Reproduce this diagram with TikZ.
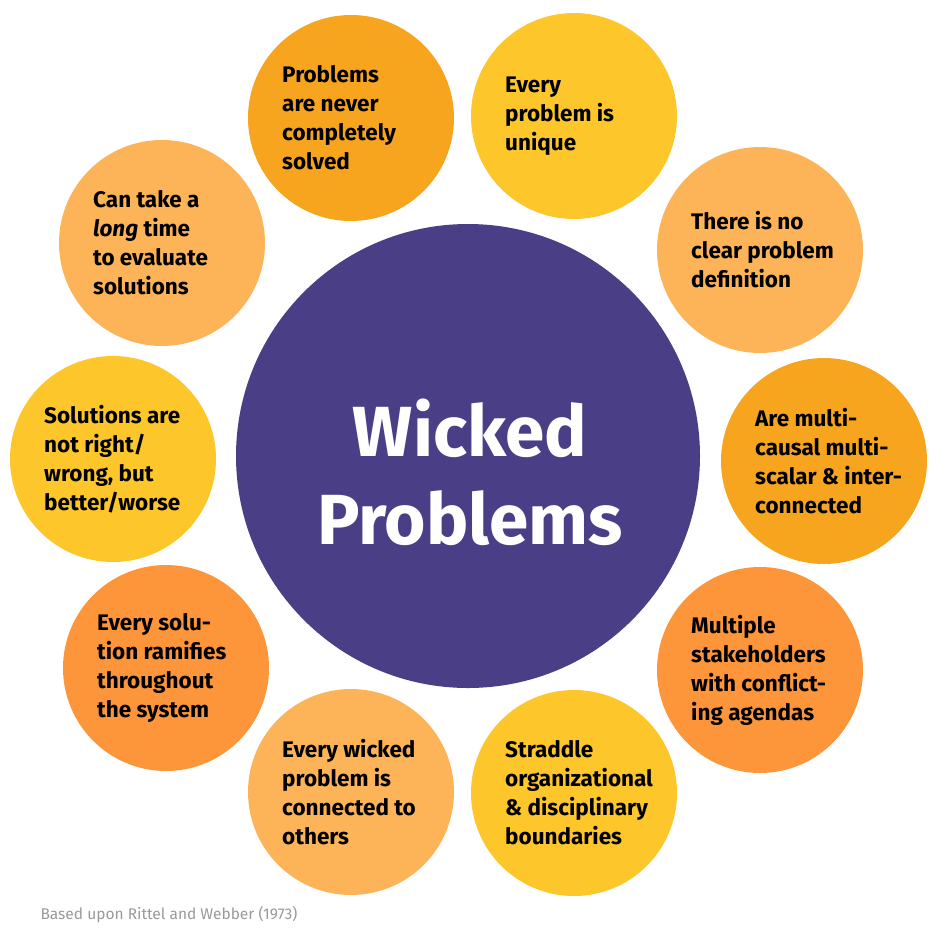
\documentclass[tikz,border=0pt]{standalone}
\usepackage{fontspec}
\setmainfont{Fira Sans}
\definecolor{cA}{HTML}{F7A51E}
\definecolor{cB}{HTML}{FDC62B}
\definecolor{cC}{HTML}{FDB357}
\definecolor{cD}{HTML}{FD963A}
\definecolor{cM}{HTML}{4A3F86}
\tikzset{bub/.style={circle,minimum size=206pt,inner sep=0pt},
 lab/.style={anchor=west,align=left,font=\fontsize{22.5}{29}\selectfont\bfseries,text=black,inner sep=0pt}}
\begin{document}
\begin{tikzpicture}[x=1pt,y=-1pt]
\useasboundingbox (0,0) rectangle (938,938);
\node[circle,fill=cM,minimum size=464pt,inner sep=0pt] (c) at (468,456) {};
\node[text=white,font=\fontsize{71}{88}\selectfont\bfseries,align=center] (t) at (470,472) {Wicked\\Problems};
\foreach \n/\x/\y/\c/\t in {
 a/351/118/cA/{Problems\\are never\\completely\\solved},
 b/574/116/cB/{Every\\problem is\\unique},
 d/760/250/cC/{There is no\\clear problem\\definition},
 e/824/461/cA/{Are multi-\\causal multi-\\scalar \& inter-\\connected},
 f/760/670/cD/{Multiple\\stakeholders\\with conflict-\\ing agendas},
 g/574/793/cB/{Straddle\\organizational\\\& disciplinary\\boundaries},
 h/351/792/cC/{Every wicked\\problem is\\connected to\\others},
 i/166/668/cD/{Every solu-\\tion ramifies\\throughout\\the system},
 j/113/459/cB/{Solutions are\\not right/\\wrong, but\\better/worse},
 k/162/243/cC/{Can take a\\\emph{long} time\\to evaluate\\solutions}}
{\node[bub,fill=\c] (\n) at (\x,\y) {};
 \node[lab] (\n l) at (\x-69,\y) {\t};}
\node[anchor=west,text=gray!80,font=\fontsize{15.5}{18}\selectfont] (src) at (37,915) {Based upon Rittel and Webber (1973)};
\end{tikzpicture}
\end{document}
